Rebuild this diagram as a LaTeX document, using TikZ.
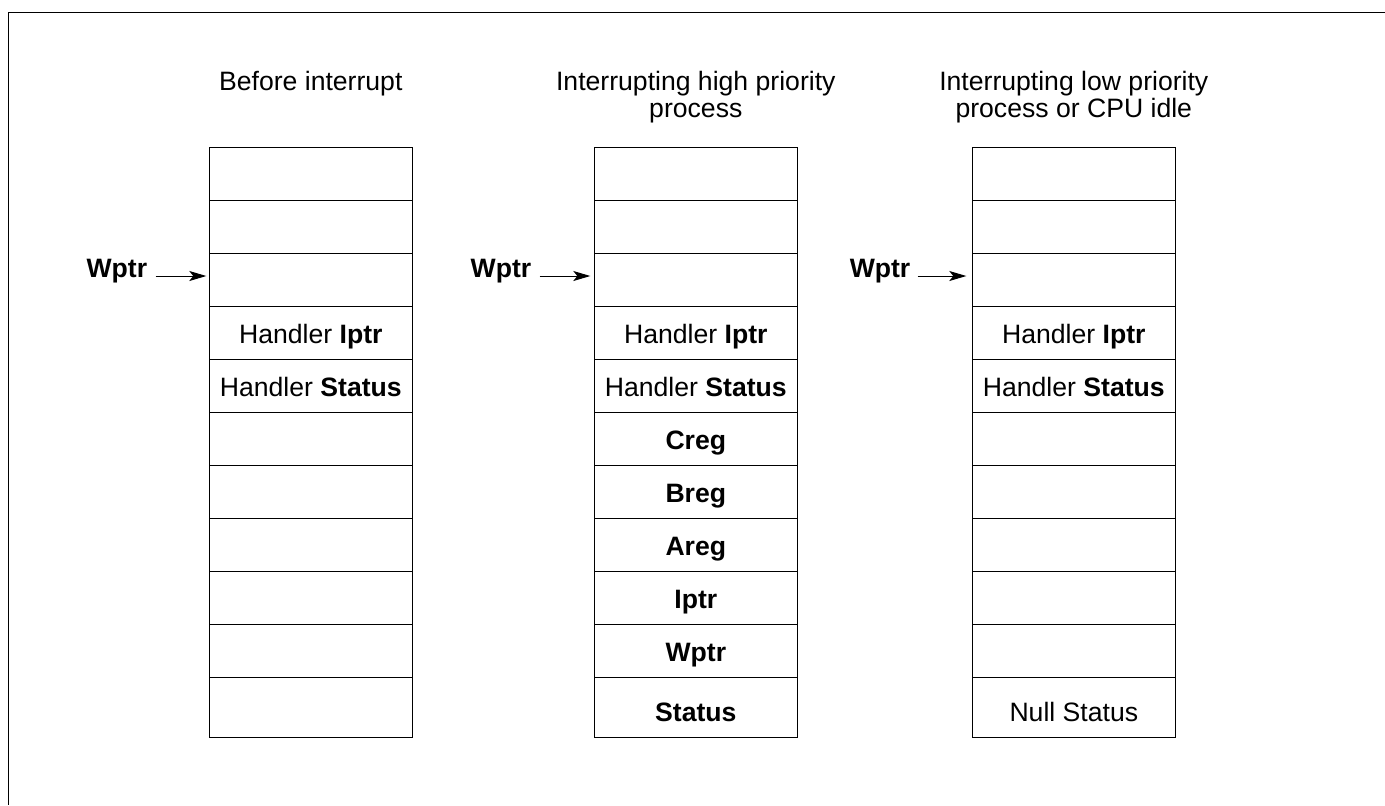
\documentclass[tikz,border=0pt]{standalone}
\usepackage{fontspec}
\setmainfont{Liberation Sans}
\usetikzlibrary{arrows.meta}

\tikzset{
  cell/.style={draw, line width=0.6pt, minimum width=101.5pt, minimum height=26.5pt,
    inner sep=0pt, outer sep=0pt, text height=10pt, text depth=0pt},
  lastcell/.style={cell, minimum height=30pt, text height=14pt},
  title/.style={anchor=north, align=center, inner sep=0pt},
  wlabel/.style={anchor=base east, inner sep=0pt},
  ptr/.style={-{Stealth[length=8.5pt, width=5pt, inset=2pt]}, line width=0.5pt},
}

\begin{document}
\begin{tikzpicture}[x=0.5pt, y=-0.5pt, font=\fontsize{13.3}{13.5}\selectfont]
    \useasboundingbox (0,0) rectangle (1385,805);
    \draw[line width=0.5pt] (1385,12) -- (8,12) -- (8,805);

    % before interrupt
    \node[title] (ta) at (310.8,71) {Before interrupt};
    \foreach \t [count=\i] in {{},{},{},{Handler \textbf{Iptr}},{Handler \textbf{Status}},{},{},{},{},{}}
        \node[cell] (a\i) at (310.8,{174+53*(\i-1)}) {\t};
    \node[lastcell] (a11) at (310.8,707.5) {};
    \node[wlabel] (wa) at (147.5,277) {\textbf{Wptr}};
    \draw[ptr] ([shift={(8,-1)}]wa.base east) -- ([shift={(-3,-4)}]a3.west);

    % high priority process
    \node[title] (tb) at (695.8,71) {Interrupting high priority\\process};
    \foreach \t [count=\i] in {{},{},{},{Handler \textbf{Iptr}},{Handler \textbf{Status}},
        \textbf{Creg},\textbf{Breg},\textbf{Areg},\textbf{Iptr},\textbf{Wptr}}
        \node[cell] (b\i) at (695.8,{174+53*(\i-1)}) {\t};
    \node[lastcell] (b11) at (695.8,707.5) {\textbf{Status}};
    \node[wlabel] (wb) at (531.7,277) {\textbf{Wptr}};
    \draw[ptr] ([shift={(8,-1)}]wb.base east) -- ([shift={(-4,-4)}]b3.west);

    % low priority process or idle
    \node[title] (tc) at (1073.8,71) {Interrupting low priority\\process or CPU idle};
    \foreach \t [count=\i] in {{},{},{},{Handler \textbf{Iptr}},{Handler \textbf{Status}},{},{},{},{},{}}
        \node[cell] (c\i) at (1073.8,{174+53*(\i-1)}) {\t};
    \node[lastcell] (c11) at (1073.8,707.5) {Null Status};
    \node[wlabel] (wc) at (910.7,277) {\textbf{Wptr}};
    \draw[ptr] ([shift={(7,-1)}]wc.base east) -- ([shift={(-6,-4)}]c3.west);
\end{tikzpicture}
\end{document}
